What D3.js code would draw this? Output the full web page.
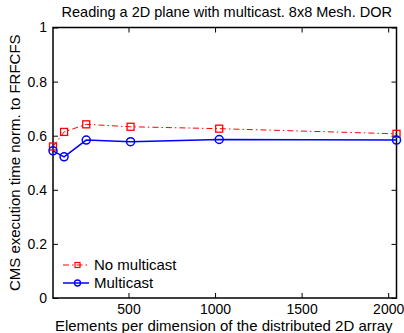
<!DOCTYPE html>
<html>
<head>
<meta charset="utf-8">
<script src="https://cdn.jsdelivr.net/npm/d3@7"></script>
<style>
  body { margin: 0; background: #fff; }
  svg text { font-family: "Liberation Sans", Arial, sans-serif; fill: #000; }
</style>
</head>
<body>
<svg id="chart" width="404" height="333"></svg>
<script>
const elements = [64, 128, 256, 512, 1024, 2048];
const noMulticast = [0.560, 0.614, 0.642, 0.633, 0.626, 0.607];
const multicast = [0.544, 0.522, 0.584, 0.578, 0.586, 0.584];
const xTicks = [500, 1000, 1500, 2000];
const yTicks = [0, 0.2, 0.4, 0.6, 0.8, 1];

const series = [
  { name: 'No multicast', values: noMulticast, color: '#ff0000', dash: '6,3,1.5,3', marker: 'square', width: 1 },
  { name: 'Multicast', values: multicast, color: '#0000ff', dash: null, marker: 'circle', width: 1.5 },
];

const svg = d3.select('#chart');
const margin = { top: 27.5, right: 7.5, bottom: 35, left: 53 };
const width = 404, height = 333;
const innerW = width - margin.left - margin.right;
const innerH = height - margin.top - margin.bottom;

const x = d3.scaleLinear().domain([64, 2048]).range([0, innerW]);
const y = d3.scaleLinear().domain([0, 1]).range([innerH, 0]);

const g = svg.append('g').attr('transform', `translate(${margin.left},${margin.top})`);

// axes: inward ticks on all four sides
const styleAxis = sel => {
  sel.select('.domain').remove();
  sel.selectAll('.tick line').attr('stroke', '#000');
  sel.selectAll('.tick text').style('font-size', '14px');
};

g.append('g')
  .attr('transform', `translate(0,${innerH})`)
  .call(d3.axisBottom(x).tickValues(xTicks).tickSize(-5).tickPadding(6).tickFormat(d3.format('d')))
  .call(styleAxis);
g.append('g')
  .call(d3.axisTop(x).tickValues(xTicks).tickSize(-5).tickFormat(''))
  .call(styleAxis);
g.append('g')
  .call(d3.axisLeft(y).tickValues(yTicks).tickSize(-5).tickPadding(6).tickFormat(d3.format('')))
  .call(styleAxis);
g.append('g')
  .attr('transform', `translate(${innerW},0)`)
  .call(d3.axisRight(y).tickValues(yTicks).tickSize(-5).tickFormat(''))
  .call(styleAxis);

g.append('rect')
  .attr('width', innerW)
  .attr('height', innerH)
  .attr('fill', 'none')
  .attr('stroke', '#000')
  .attr('stroke-width', 1.5);

const line = d3.line()
  .x((d, i) => x(elements[i]))
  .y(d => y(d));

const drawMarker = (sel, s, cx, cy) => {
  if (s.marker === 'square') {
    sel.append('rect')
      .attr('x', cx - 3.5).attr('y', cy - 3.5)
      .attr('width', 7).attr('height', 7)
      .attr('fill', 'none').attr('stroke', s.color).attr('stroke-width', 1.3);
  } else {
    sel.append('circle')
      .attr('cx', cx).attr('cy', cy).attr('r', 4)
      .attr('fill', 'none').attr('stroke', s.color).attr('stroke-width', 1.5);
  }
};

series.forEach(s => {
  g.append('path')
    .datum(s.values)
    .attr('d', line)
    .attr('fill', 'none')
    .attr('stroke', s.color)
    .attr('stroke-width', s.width)
    .attr('stroke-dasharray', s.dash);
  const mg = g.append('g');
  s.values.forEach((v, i) => drawMarker(mg, s, x(elements[i]), y(v)));
});

// legend
const legend = g.append('g').attr('transform', 'translate(10,237.5)');
series.forEach((s, i) => {
  const ly = i * 18;
  legend.append('line')
    .attr('x1', 0).attr('x2', 26).attr('y1', ly).attr('y2', ly)
    .attr('stroke', s.color).attr('stroke-width', s.width)
    .attr('stroke-dasharray', s.dash);
  const lm = legend.append('g');
  if (s.marker === 'square') {
    lm.append('rect').attr('x', 12).attr('y', ly - 2.5).attr('width', 5).attr('height', 5)
      .attr('fill', 'none').attr('stroke', s.color).attr('stroke-width', 1.2);
  } else {
    lm.append('circle').attr('cx', 14.5).attr('cy', ly).attr('r', 3)
      .attr('fill', 'none').attr('stroke', s.color).attr('stroke-width', 1.3);
  }
  legend.append('text')
    .attr('x', 31).attr('y', ly)
    .attr('dy', '0.35em')
    .style('font-size', '15px')
    .text(s.name);
});

// title and axis labels
svg.append('text')
  .attr('x', margin.left + innerW / 2 + 2)
  .attr('y', 17)
  .attr('text-anchor', 'middle')
  .style('font-size', '14.5px')
  .text('Reading a 2D plane with multicast. 8x8 Mesh. DOR');

svg.append('text')
  .attr('x', margin.left + innerW / 2 - 1)
  .attr('y', 331)
  .attr('text-anchor', 'middle')
  .style('font-size', '15px')
  .text('Elements per dimension of the distributed 2D array');

svg.append('text')
  .attr('transform', `translate(20,${margin.top + innerH / 2}) rotate(-90)`)
  .attr('text-anchor', 'middle')
  .style('font-size', '15px')
  .text('CMS execution time norm. to FRFCFS');
</script>
</body>
</html>
